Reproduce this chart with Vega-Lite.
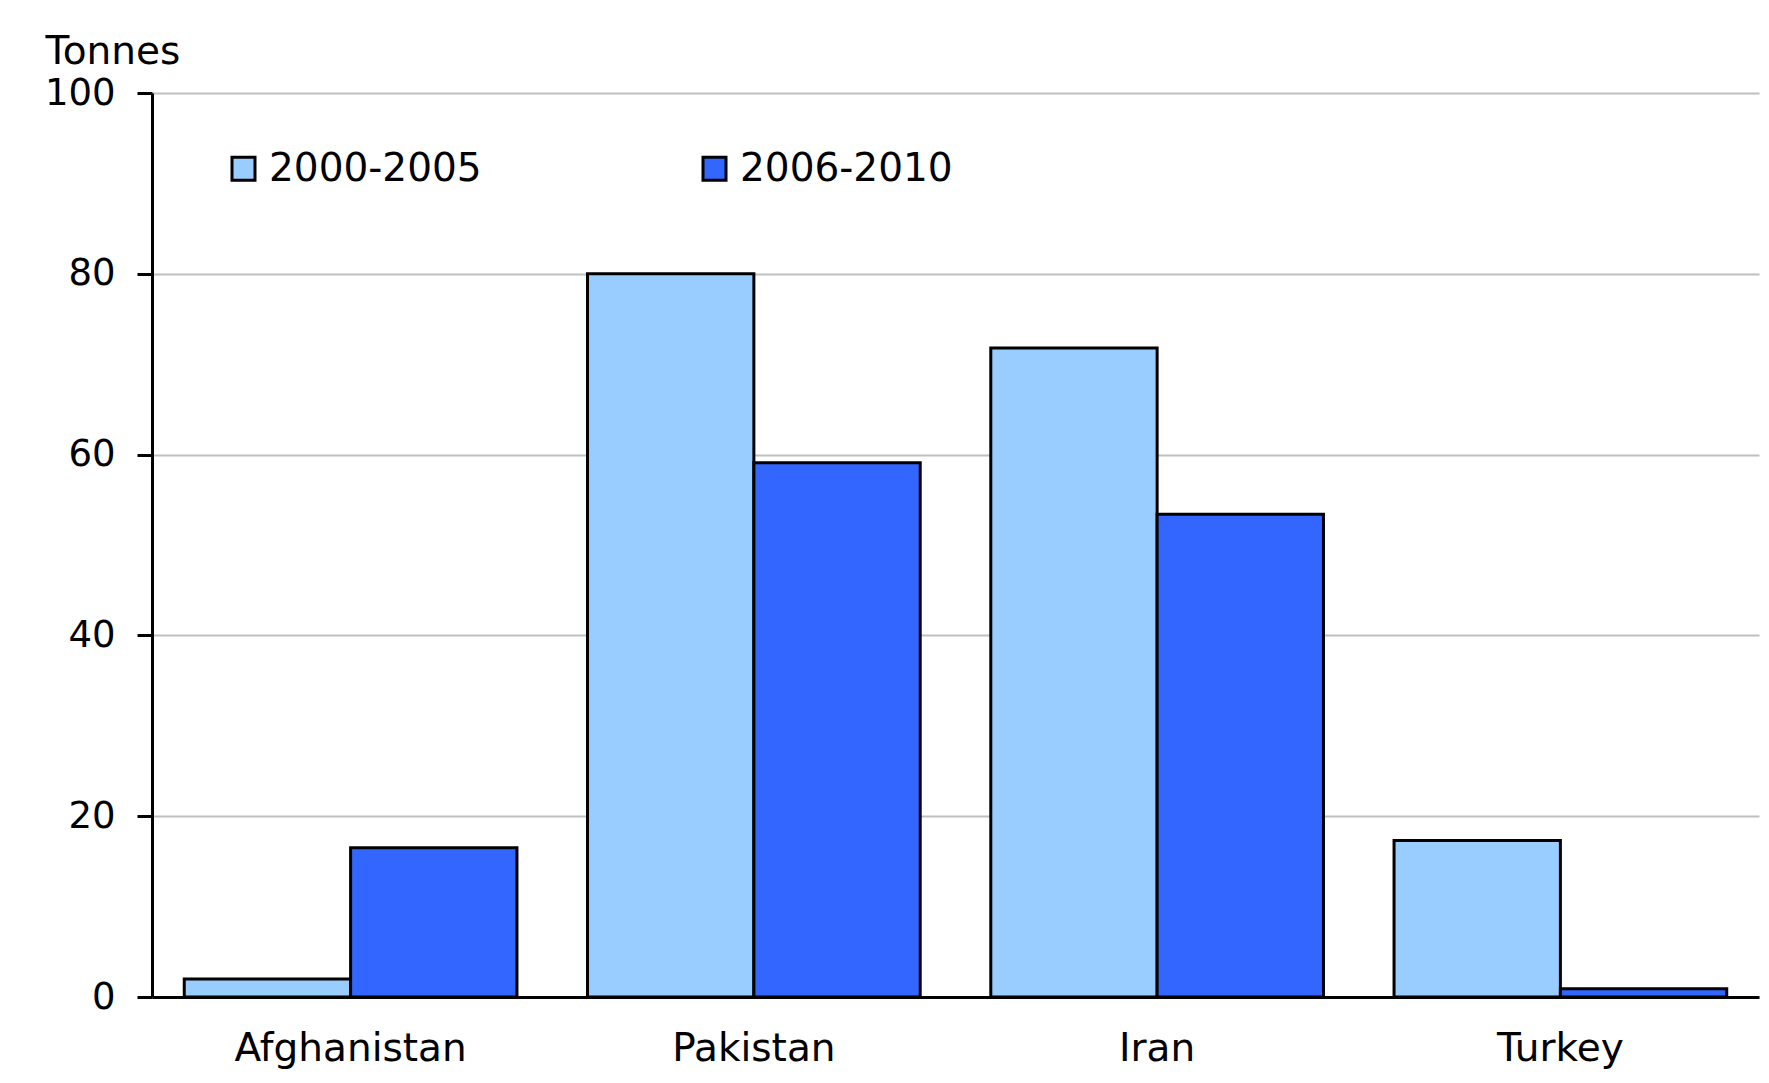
{
  "$schema": "https://vega.github.io/schema/vega-lite/v6.json",
  "width": 1607,
  "height": 904,
  "autosize": {"type": "none"},
  "padding": {"left": 152, "top": 93, "right": 10, "bottom": 86},
  "background": "white",
  "config": {
    "font": "DejaVu Sans",
    "view": {"stroke": null},
    "axis": {"labelFont": "DejaVu Sans", "titleFont": "DejaVu Sans"}
  },
  "data": {
    "values": [
      {"country": "Afghanistan", "period": "2000-2005", "tonnes": 2.0},
      {"country": "Afghanistan", "period": "2006-2010", "tonnes": 16.5},
      {"country": "Pakistan", "period": "2000-2005", "tonnes": 80.0},
      {"country": "Pakistan", "period": "2006-2010", "tonnes": 59.1},
      {"country": "Iran", "period": "2000-2005", "tonnes": 71.8},
      {"country": "Iran", "period": "2006-2010", "tonnes": 53.4},
      {"country": "Turkey", "period": "2000-2005", "tonnes": 17.3},
      {"country": "Turkey", "period": "2006-2010", "tonnes": 0.9}
    ]
  },
  "mark": {"type": "bar", "stroke": "black", "strokeWidth": 3},
  "encoding": {
    "x": {
      "field": "country",
      "type": "nominal",
      "sort": ["Afghanistan", "Pakistan", "Iran", "Turkey"],
      "scale": {"paddingInner": 0.175, "paddingOuter": 0.08},
      "axis": {
        "title": null,
        "labelAngle": 0,
        "labelFontSize": 39,
        "labelColor": "black",
        "labelPadding": 32,
        "labelBaseline": "top",
        "labelLimit": 600,
        "ticks": false,
        "domainColor": "black",
        "domainWidth": 3
      }
    },
    "xOffset": {
      "field": "period",
      "type": "nominal",
      "scale": {"paddingInner": 0, "paddingOuter": 0}
    },
    "y": {
      "field": "tonnes",
      "type": "quantitative",
      "scale": {"domain": [0, 100], "nice": false},
      "axis": {
        "values": [0, 20, 40, 60, 80, 100],
        "title": "Tonnes",
        "titleAngle": 0,
        "titleAlign": "left",
        "titleBaseline": "alphabetic",
        "titleX": -107,
        "titleY": -30,
        "titleFontSize": 39,
        "titleFontWeight": "normal",
        "titleColor": "black",
        "labelFontSize": 37,
        "labelColor": "black",
        "labelPadding": 22,
        "tickSize": 15,
        "tickColor": "black",
        "tickWidth": 3,
        "domainColor": "black",
        "domainWidth": 3,
        "grid": true,
        "gridColor": "#c0c0c0",
        "gridWidth": 2
      }
    },
    "fill": {
      "field": "period",
      "type": "nominal",
      "scale": {"domain": ["2000-2005", "2006-2010"], "range": ["#99ccff", "#3366ff"]},
      "legend": {
        "title": null,
        "orient": "none",
        "legendX": 72,
        "legendY": 56,
        "direction": "horizontal",
        "columns": 2,
        "columnPadding": 213,
        "symbolType": "square",
        "symbolSize": 529,
        "symbolStrokeColor": "black",
        "symbolStrokeWidth": 3,
        "labelFontSize": 39,
        "labelColor": "black",
        "labelOffset": 6,
        "labelLimit": 400
      }
    }
  }
}
